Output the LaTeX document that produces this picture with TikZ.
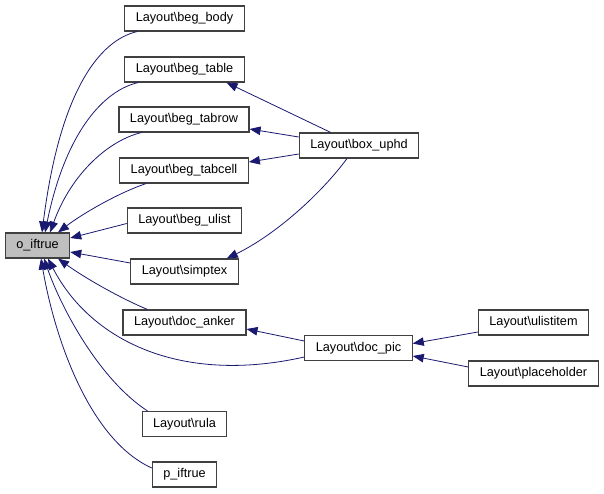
\documentclass[tikz,border=0pt]{standalone}
\usepackage{fontspec}
\setmainfont{Liberation Sans}
\usepackage{tikz}
\usetikzlibrary{arrows.meta}
\definecolor{edgeblue}{RGB}{25,25,112}

\begin{document}
\begin{tikzpicture}[x = 1pt, y = -1pt,
        func/.style = {draw = black!75, line width = 1.1pt, fill = white, inner xsep = 11pt, inner ysep = 0pt, minimum height = 25pt, font = \fontsize{12.7}{15}\selectfont},
        hilit/.style = {func, fill = black!25},
        call/.style = {draw = edgeblue, line width = 0.8pt, {Triangle[length = 11pt, width = 8.5pt]}-}]
        \useasboundingbox (0, 0) rectangle (604, 493);
        \node [hilit] (oiftrue) at (37.5, 245.5) {o\_iftrue};
        \node [func] (begbody) at (184.5, 18.5) {Layout\textbackslash beg\_body};
        \node [func] (begtable) at (184.5, 69.5) {Layout\textbackslash beg\_table};
        \node [func] (begtabrow) at (184, 119.5) {Layout\textbackslash beg\_tabrow};
        \node [func] (begtabcell) at (184, 170.5) {Layout\textbackslash beg\_tabcell};
        \node [func] (begulist) at (184.5, 220.5) {Layout\textbackslash beg\_ulist};
        \node [func] (simptex) at (184.5, 271.5) {Layout\textbackslash simptex};
        \node [func] (docanker) at (184.5, 322.5) {Layout\textbackslash doc\_anker};
        \node [func] (rula) at (184.5, 424) {Layout\textbackslash rula};
        \node [func] (piftrue) at (184.5, 474.5) {p\_iftrue};
        \node [func] (boxuphd) at (359, 145.5) {Layout\textbackslash box\_uphd};
        \node [func] (docpic) at (358.5, 348) {Layout\textbackslash doc\_pic};
        \node [func] (ulistitem) at (533.5, 322.5) {Layout\textbackslash ulistitem};
        \node [func] (placeholder) at (533.5, 373.5) {Layout\textbackslash placeholder};
        \draw [call] ([xshift = 4.5pt] oiftrue.north) .. controls (60, 90) and (100, 40) .. ([xshift = 13pt] begbody.south west);
        \draw [call] ([xshift = 7.5pt] oiftrue.north) .. controls (66, 130) and (105, 90) .. ([xshift = 14pt] begtable.south west);
        \draw [call] ([xshift = 12.5pt] oiftrue.north) .. controls (72, 172) and (110, 140) .. ([xshift = 23pt] begtabrow.south west);
        \draw [call] ([xshift = 20.5pt] oiftrue.north) .. controls (82, 214) and (118, 193) .. ([xshift = 27pt] begtabcell.south west);
        \draw [call] ([yshift = 7.5pt] oiftrue.east) -- ([yshift = -3pt] begulist.west);
        \draw [call] ([yshift = -6.5pt] oiftrue.east) -- ([yshift = 8.5pt] simptex.west);
        \draw [call] ([xshift = 20.5pt] oiftrue.south) .. controls (85, 278) and (120, 298) .. ([xshift = 25pt] docanker.north west);
        \draw [call] ([xshift = 10.5pt] oiftrue.south) .. controls (90, 340) and (180, 385) .. ([yshift = -9pt] docpic.west);
        \draw [call] ([xshift = 6.5pt] oiftrue.south) .. controls (62, 310) and (100, 380) .. ([xshift = 6pt] rula.north west);
        \draw [call] ([xshift = 3.5pt] oiftrue.south) .. controls (55, 340) and (90, 440) .. ([yshift = 6.5pt] piftrue.west);
        \draw [call] ([xshift = 42pt] begtable.south) -- ([xshift = 32pt] boxuphd.north west);
        \draw [call] ([yshift = -9.5pt] begtabrow.east) -- ([yshift = 8.5pt] boxuphd.west);
        \draw [call] ([yshift = 8.5pt] begtabcell.east) -- ([yshift = -8.5pt] boxuphd.west);
        \draw [call] ([xshift = -12pt] simptex.north east) .. controls (275, 235) and (320, 195) .. ([xshift = -12pt] boxuphd.south);
        \draw [call] ([yshift = -6.5pt] docanker.east) -- ([yshift = 7pt] docpic.west);
        \draw [call] ([yshift = 4.5pt] docpic.east) -- ([yshift = -9.5pt] ulistitem.west);
        \draw [call] ([yshift = -8pt] docpic.east) -- ([yshift = 6.5pt] placeholder.west);
\end{tikzpicture}
\end{document}
